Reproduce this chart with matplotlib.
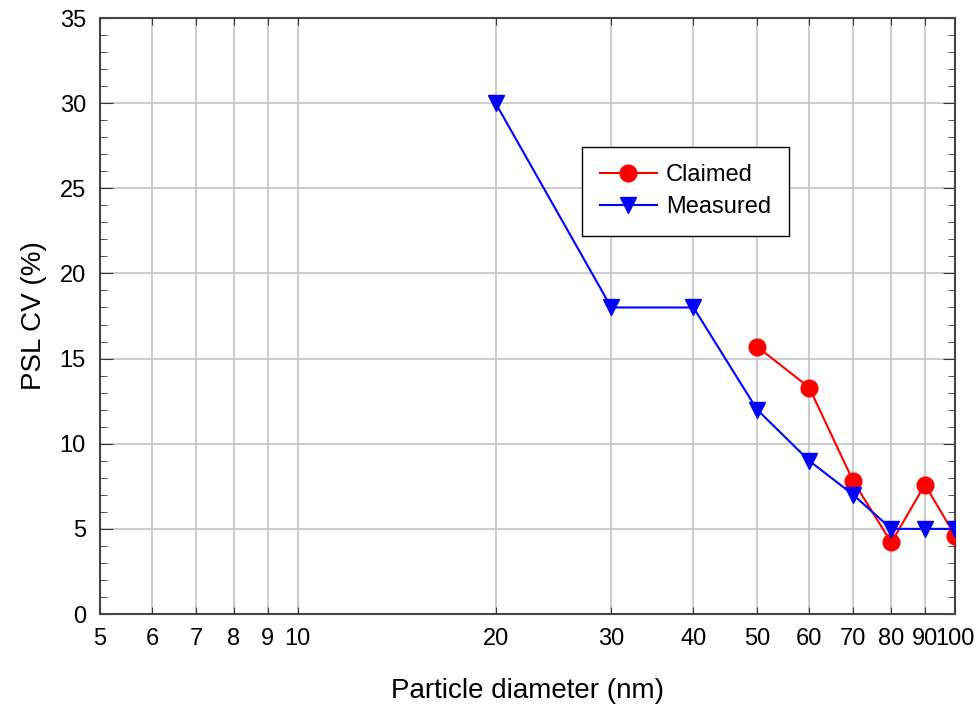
import matplotlib
matplotlib.use("Agg")
from matplotlib import pyplot as plt
from matplotlib.ticker import FixedLocator, MultipleLocator, NullLocator

plt.rcParams['font.family'] = ['Liberation Sans', 'DejaVu Sans']

claimed_d = [50, 60, 70, 80, 90, 100]
claimed_cv = [15.7, 13.3, 7.8, 4.2, 7.6, 4.6]

measured_d = [20, 30, 40, 50, 60, 70, 80, 90, 100]
measured_cv = [30, 18, 18, 12, 9, 7, 5, 5, 5]

xticks = [5, 6, 7, 8, 9, 10, 20, 30, 40, 50, 60, 70, 80, 90, 100]

fig = plt.figure(figsize=(9.79, 7.06), dpi=100)
ax = fig.add_axes([0.102, 0.1303, 0.8735, 0.8442])

ax.plot(claimed_d, claimed_cv, color='red', marker='o', markersize=12,
        linewidth=1.5, label='Claimed', zorder=3)
ax.plot(measured_d, measured_cv, color='blue', marker='v', markersize=12,
        linewidth=1.5, label='Measured', zorder=4)

ax.set_xscale('log')
ax.set_xlim(5, 100)
ax.set_ylim(0, 35)
ax.xaxis.set_major_locator(FixedLocator(xticks))
ax.xaxis.set_minor_locator(NullLocator())
ax.set_xticklabels([str(t) for t in xticks])
ax.yaxis.set_major_locator(MultipleLocator(5))
ax.yaxis.set_minor_locator(MultipleLocator(1))

ax.grid(True, which='major', color='#c8c8c8', linewidth=1.3, zorder=0)
ax.set_axisbelow(True)

ax.tick_params(axis='both', which='both', direction='in', top=True, right=True,
               labelsize=17, color='#333333')
ax.tick_params(axis='y', which='major', length=9, pad=10)
ax.tick_params(axis='y', which='minor', length=5)
ax.tick_params(axis='x', which='major', length=5, pad=10)
for s in ax.spines.values():
    s.set_color('#444444')
    s.set_linewidth(1.5)

ax.set_xlabel('Particle diameter (nm)', fontsize=20, labelpad=20)
ax.set_ylabel('PSL CV (%)', fontsize=20, labelpad=9)

leg = ax.legend(loc='upper left', bbox_to_anchor=(0.564, 0.784), borderaxespad=0,
                fontsize=17, fancybox=False, framealpha=1, edgecolor='black',
                handlelength=2.4, handletextpad=0.4, borderpad=0.75, labelspacing=0.4)
leg.get_frame().set_linewidth(1.0)

plt.savefig("out.png", dpi=100)
